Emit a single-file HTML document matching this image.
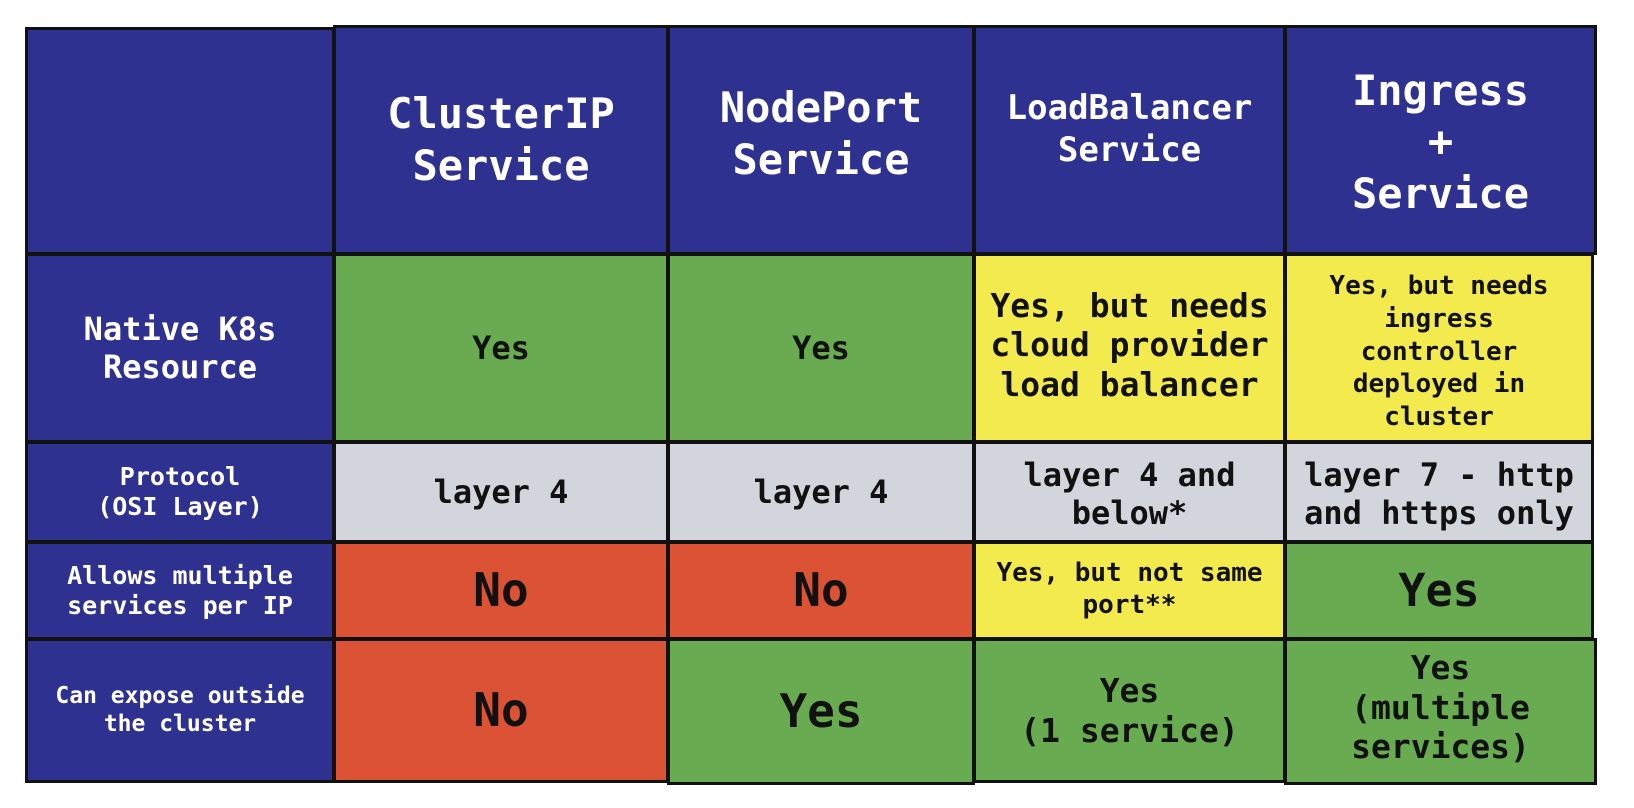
<!DOCTYPE html>
<html><head><meta charset="utf-8"><style>
html,body{margin:0;padding:0;background:#fff;width:1634px;height:808px;overflow:hidden}
.c{position:absolute;box-sizing:border-box;border:3px solid #111;display:flex;align-items:center;justify-content:center;text-align:center;
font-family:"DejaVu Sans Mono","Liberation Mono",monospace;font-weight:bold;line-height:1.2;color:#111}
.h{background:#2e3190;color:#fff}
.g{background:#69ab50}.y{background:#f3ea4e}.r{background:#dc5235}.s{background:#d2d5dc}
</style></head><body>
<!-- header row -->
<div class="c h" style="left:25px;top:27px;width:310px;height:228px"></div>
<div class="c h" style="left:333px;top:25px;width:336px;height:230px;font-size:42px;line-height:1.24">ClusterIP<br>Service</div>
<div class="c h" style="left:667px;top:25px;width:308px;height:230px;font-size:42px;line-height:1.24;padding-bottom:12px">NodePort<br>Service</div>
<div class="c h" style="left:973px;top:25px;width:313px;height:230px;font-size:34px;line-height:1.24;padding-bottom:22px">LoadBalancer<br>Service</div>
<div class="c h" style="left:1284px;top:25px;width:313px;height:230px;font-size:42px;line-height:1.23;padding-top:4px">Ingress<br>+<br>Service</div>
<!-- row 1 -->
<div class="c h" style="left:25px;top:253px;width:310px;height:190px;font-size:32px">Native K8s<br>Resource</div>
<div class="c g" style="left:333px;top:253px;width:336px;height:190px;font-size:32px">Yes</div>
<div class="c g" style="left:667px;top:253px;width:308px;height:190px;font-size:32px">Yes</div>
<div class="c y" style="left:973px;top:253px;width:313px;height:190px;font-size:33px;line-height:1.2;padding-bottom:6px">Yes, but needs<br>cloud provider<br>load balancer</div>
<div class="c y" style="left:1284px;top:253px;width:310px;height:190px;font-size:26px;line-height:1.26;padding-top:8px">Yes, but needs<br>ingress<br>controller<br>deployed in<br>cluster</div>
<!-- row 2 -->
<div class="c h" style="left:25px;top:441px;width:310px;height:102px;font-size:25px">Protocol<br>(OSI Layer)</div>
<div class="c s" style="left:333px;top:441px;width:336px;height:102px;font-size:32px">layer 4</div>
<div class="c s" style="left:667px;top:441px;width:308px;height:102px;font-size:32px">layer 4</div>
<div class="c s" style="left:973px;top:441px;width:313px;height:102px;font-size:32px;padding-top:4px">layer 4 and<br>below*</div>
<div class="c s" style="left:1284px;top:441px;width:310px;height:102px;font-size:32px;padding-top:4px">layer 7 - http<br>and https only</div>
<!-- row 3 -->
<div class="c h" style="left:25px;top:541px;width:310px;height:99px;font-size:25px">Allows multiple<br>services per IP</div>
<div class="c r" style="left:333px;top:541px;width:336px;height:99px;font-size:46px">No</div>
<div class="c r" style="left:667px;top:541px;width:308px;height:99px;font-size:46px">No</div>
<div class="c y" style="left:973px;top:541px;width:313px;height:99px;font-size:26px;padding-bottom:2px">Yes, but not same<br>port**</div>
<div class="c g" style="left:1284px;top:541px;width:310px;height:99px;font-size:45px">Yes</div>
<!-- row 4 -->
<div class="c h" style="left:25px;top:638px;width:310px;height:145px;font-size:23px">Can expose outside<br>the cluster</div>
<div class="c r" style="left:333px;top:638px;width:336px;height:145px;font-size:46px">No</div>
<div class="c g" style="left:667px;top:638px;width:308px;height:147px;font-size:46px">Yes</div>
<div class="c g" style="left:973px;top:638px;width:313px;height:145px;font-size:33px">Yes<br>(1 service)</div>
<div class="c g" style="left:1284px;top:638px;width:313px;height:147px;font-size:33px;line-height:1.2;padding-bottom:8px">Yes<br>(multiple<br>services)</div>
</body></html>
